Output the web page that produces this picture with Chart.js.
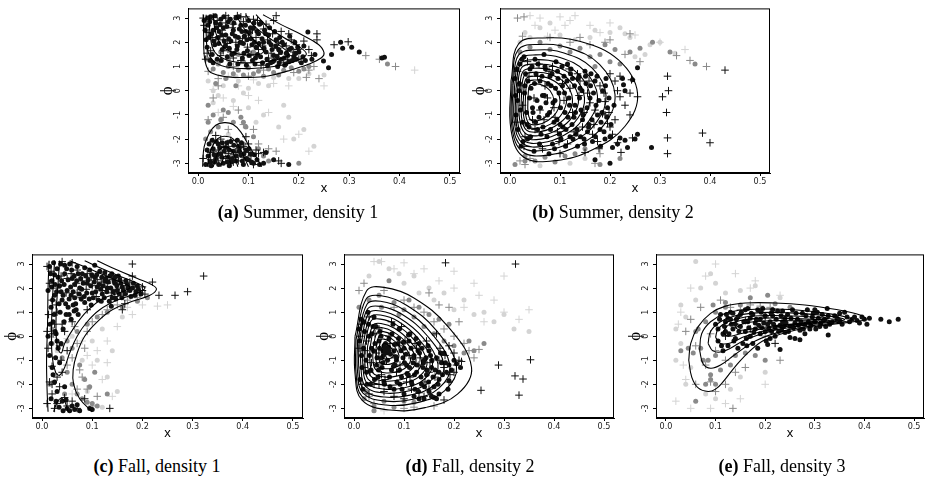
<!DOCTYPE html>
<html>
<head>
<meta charset="utf-8">
<script src="https://cdn.jsdelivr.net/npm/chart.js@4.4.0/dist/chart.umd.min.js"></script>
<style>
  html, body { margin: 0; padding: 0; background: #fff; width: 926px; height: 479px; overflow: hidden; position: relative; }
  canvas { position: absolute; }
  .cap { position: absolute; font-family: 'Liberation Serif', 'Times New Roman', serif; font-size: 18px; color: #000; white-space: nowrap; transform: translateX(-50%); line-height: 22px; }
</style>
</head>
<body>
<canvas id="pa"></canvas>
<canvas id="pb"></canvas>
<canvas id="pc"></canvas>
<canvas id="pd"></canvas>
<canvas id="pe"></canvas>
<div class="cap" style="left:298px;top:201px"><b>(a)</b> Summer, density 1</div>
<div class="cap" style="left:613px;top:201px"><b>(b)</b> Summer, density 2</div>
<div class="cap" style="left:157px;top:455px"><b>(c)</b> Fall, density 1</div>
<div class="cap" style="left:470px;top:455px"><b>(d)</b> Fall, density 2</div>
<div class="cap" style="left:782px;top:455px"><b>(e)</b> Fall, density 3</div>
<script>
// axis ticks shared by all five panels
const xTicks = [0, 0.1, 0.2, 0.3, 0.4, 0.5];
const yTicks = [-3, -2, -1, 0, 1, 2, 3];

// ---- (a) Summer, density 1 ----
const aDotsDark = [[.012,2.9],[.02,2.7],[.025,3.05],[.03,2.5],[.035,2.8],[.04,2.2],[.045,2.95],[.05,2.6],[.055,2.3],[.06,2.85],[.065,2.05],[.07,2.5],[.075,3.0],[.08,2.2],[.085,2.7],[.09,1.95],[.095,2.45],[.1,2.9],[.105,2.15],[.11,2.6],[.115,1.8],[.12,2.35],[.125,2.8],[.13,2.0],[.135,1.6],[.14,2.3],[.145,1.9],[.15,1.45],[.155,2.1],[.16,1.7],[.165,1.3],[.17,1.9],[.175,1.55],[.18,1.2],[.185,1.75],[.19,1.4],[.2,1.6],[.205,1.15],[.21,1.85],[.018,1.8],[.022,2.2],[.028,1.5],[.033,1.9],[.038,1.3],[.042,2.45],[.048,1.7],[.052,2.05],[.058,1.4],[.062,1.75],[.068,2.35],[.072,1.55],[.078,1.85],[.082,2.55],[.088,1.35],[.092,2.25],[.098,1.65],[.102,2.4],[.108,1.25],[.112,2.0],[.118,1.5],[.122,2.75],[.128,1.15],[.132,2.5],[.138,1.05],[.142,2.6],[.148,1.2],[.152,2.45],[.158,1.0],[.162,2.2],[.172,1.05],[.182,2.25],[.192,2.0],[.195,1.3],[.218,2.42],[.249,1.23],[.259,0.95],[.265,1.5],[.283,2.0],[.287,1.75],[.305,1.8],[.32,1.6],[.365,1.35],[.37,1.38],
  [.014,2.5],[.016,2.1],[.019,3.0],[.023,2.85],[.027,2.35],[.031,2.05],[.034,3.1],[.037,2.6],[.041,1.95],[.044,2.75],[.047,2.3],[.051,3.05],[.054,1.85],[.057,2.65],[.061,2.15],[.064,2.95],[.067,1.5],[.071,2.8],[.074,2.25],[.077,1.7],[.081,3.05],[.084,2.0],[.087,2.45],[.091,1.55],[.094,2.7],[.097,2.1],[.101,1.45],[.104,2.6],[.107,1.9],[.111,2.8],[.114,1.35],[.117,2.45],[.121,1.95],[.124,1.4],[.127,2.15],[.131,1.75],[.134,2.35],[.137,1.3],[.141,2.0],[.144,1.15],[.147,1.7],[.151,1.25],[.154,1.85],[.157,1.4],[.161,1.15],[.164,1.6],[.167,2.0],[.171,1.35],[.174,1.1],[.178,1.45],[.181,1.7],[.187,1.25],[.194,1.55],[.198,1.8],[.208,1.4],[.213,1.25],[.226,1.3],[.232,1.5],[.024,1.25],[.03,1.15],[.046,1.25],[.063,1.1],[.079,1.1],[.096,1.05],[.113,1.1],
  [.015,-3.05],[.02,-2.7],[.025,-2.95],[.03,-2.4],[.035,-2.8],[.04,-2.2],[.045,-2.6],[.05,-3.0],[.055,-2.35],[.06,-2.75],[.065,-2.1],[.07,-2.5],[.075,-2.9],[.08,-2.3],[.085,-2.65],[.09,-3.05],[.095,-2.45],[.1,-2.85],[.105,-2.6],[.11,-3.0],[.028,-2.05],[.038,-2.65],[.048,-2.15],[.058,-2.95],[.068,-2.8],[.078,-2.05],[.088,-2.9],[.13,-3.0],[.15,-2.85],[.135,-2.55],[.18,-3.05],
  [.018,-2.45],[.022,-2.2],[.026,-3.1],[.032,-2.65],[.036,-2.1],[.041,-3.05],[.043,-2.35],[.047,-2.75],[.052,-2.5],[.057,-2.15],[.062,-2.45],[.066,-2.95],[.071,-2.25],[.076,-2.7],[.081,-2.5],[.086,-2.15],[.091,-2.6],[.096,-2.8],[.101,-2.4],[.106,-2.95],[.112,-2.65],[.117,-2.85],[.122,-3.05],[.033,-2.95],[.062,-3.1]];
const aDotsMid = [[.02,1.3],[.03,0.9],[.04,1.1],[.05,0.75],[.06,1.0],[.07,0.7],[.08,0.85],[.09,0.65],[.1,0.95],[.11,0.7],[.12,0.8],[.13,0.6],[.14,0.9],[.15,0.75],[.16,0.65],[.17,0.85],[.185,0.95],[.2,0.8],[.21,0.9],[.22,1.0],[.035,0.3],[.055,0.5],[.075,0.2],[.02,-0.6],[.03,-1.0],[.045,-1.2],[.06,-0.9],[.04,-1.5],[.025,-1.7],[.07,-1.3],[.085,-1.1],[.095,-1.5],[.05,-0.8],[.11,-1.9],[.12,-2.4],[.09,-2.2],[.13,-2.7],[.14,-2.9],[.015,-2.0],[.2,-3.0],[.376,1.1],[.11,1.6],[.06,1.3],[.025,2.3],[.045,1.6],[.09,1.2],[.08,1.5],[.02,-1.3],[.09,-1.3]];
const aDotsLight = [[.03,0.0],[.05,0.2],[.08,0.4],[.1,0.1],[.12,0.3],[.15,0.55],[.18,0.5],[.22,0.7],[.25,0.65],[.03,-0.5],[.07,-0.4],[.1,-0.7],[.13,-1.0],[.16,-1.5],[.19,-2.0],[.04,-0.2],[.09,-0.1],[.115,-1.3],[.06,-1.8],[.02,0.4],[.14,0.2],[.2,0.5],[.17,-0.6],[.075,0.6],[.23,-2.3],[.18,-1.1],[.21,-1.6]];
const aPlusDark = [[.01,3.0],[.02,2.4],[.03,3.05],[.04,2.65],[.05,2.1],[.06,3.0],[.07,2.75],[.08,1.9],[.09,2.85],[.1,2.3],[.11,2.95],[.12,1.7],[.13,2.55],[.14,1.35],[.15,2.9],[.16,2.0],[.17,1.15],[.18,2.35],[.19,1.6],[.2,1.3],[.21,2.05],[.22,1.7],[.236,2.35],[.236,2.1],[.27,1.9],[.298,2.02],[.015,1.3],[.025,1.65],[.035,2.1],[.045,1.45],[.055,2.8],[.065,1.6],[.075,2.0],[.085,1.25],[.095,3.05],[.105,1.5],[.115,2.2],[.125,1.05],[.135,2.75],[.145,1.55],[.155,3.1],[.165,2.45],[.175,1.85],[.185,2.1],[.195,1.9],[.025,2.95],[.055,3.1],[.085,3.05],
  [.012,2.7],[.018,1.55],[.028,2.2],[.038,2.9],[.048,2.5],[.058,1.95],[.068,2.6],[.078,3.1],[.088,2.15],[.098,1.8],[.108,2.5],[.118,2.9],[.128,1.85],[.138,2.1],[.148,2.35],[.158,1.75],[.168,1.95],[.178,1.3],[.188,1.45],[.198,1.7],[.225,1.45],[.16,1.5],[.07,1.35],[.05,1.65],
  [.01,-2.8],[.02,-3.0],[.03,-2.5],[.04,-2.9],[.05,-2.3],[.06,-2.6],[.07,-2.95],[.08,-2.4],[.09,-2.75],[.1,-2.2],[.11,-3.05],[.12,-2.6],[.045,-2.0],[.035,-1.85],[.065,-2.05],[.075,-2.55],[.025,-2.55],[.055,-2.8],[.085,-2.35],[.16,-2.9],[.165,-3.0],[.13,-2.55],[.095,-1.9],[.105,-2.7],[.025,-2.85],[.03,-2.1],[.04,-2.45],[.06,-2.3],[.07,-2.65],[.08,-2.9],[.09,-2.3],[.1,-2.55],[.115,-2.45]];
const aPlusMid = [[.02,0.8],[.04,0.5],[.07,1.0],[.1,0.6],[.13,0.85],[.16,1.05],[.19,0.75],[.215,0.55],[.24,0.5],[.333,1.45],[.36,1.3],[.392,1.0],[.03,-0.3],[.05,-1.1],[.08,-0.8],[.11,-1.6],[.12,-2.2],[.06,-1.6],[.155,-2.5],[.02,-1.2],[.22,0.85],[.09,-1.4],[.14,-2.4],[.04,0.2],[.23,1.0]];
const aPlusLight = [[.43,0.85],[.05,-0.3],[.08,0.2],[.12,-0.4],[.15,0.3],[.18,0.2],[.06,0.6],[.1,-0.2],[.2,-1.8],[.04,-0.9],[.14,-0.9],[.17,-2.0],[.25,0.2],[.03,0.05],[.11,0.45],[.22,-2.5],[.07,-0.65]];
const aContours = [
  [[.011,3.14],[.011,2.3],[.012,1.5],[.016,1.05],[.025,.75],[.059,.57],[.099,.55],[.139,.61],[.179,.82],[.219,1.09],[.245,1.36],[.25,1.57],[.239,1.91],[.205,2.32],[.165,2.73],[.129,3.14]],
  [[.016,3.14],[.016,2.4],[.02,1.6],[.035,1.15],[.075,.93],[.13,.95],[.17,1.07],[.2,1.28],[.215,1.52],[.2,1.82],[.17,2.2],[.14,2.6],[.115,3.14]],
  [[.022,3.14],[.024,2.3],[.033,1.6],[.06,1.25],[.1,1.15],[.15,1.25],[.18,1.5],[.165,1.82],[.14,2.2],[.11,2.7],[.095,3.14]],
  [[.03,3.14],[.035,2.4],[.05,1.8],[.08,1.52],[.11,1.47],[.13,1.62],[.115,2.0],[.09,2.6],[.075,3.14]],
  [[.009,-3.14],[.012,-2.32],[.022,-1.77],[.035,-1.43],[.052,-1.32],[.069,-1.39],[.085,-1.71],[.102,-2.32],[.119,-2.86],[.126,-3.14]],
  [[.019,-3.14],[.025,-2.46],[.039,-1.98],[.052,-1.88],[.069,-1.98],[.085,-2.46],[.1,-3.14]],
  [[.03,-3.14],[.042,-2.46],[.055,-2.32],[.068,-2.5],[.079,-3.14]],
  [[.045,-3.14],[.052,-2.73],[.06,-2.75],[.066,-3.14]]
];

// ---- (b) Summer, density 2 ----
const bDotsDark = [[.01,0.5],[.015,-0.4],[.02,1.1],[.025,-1.3],[.03,0.2],[.035,-2.0],[.04,0.9],[.045,-0.7],[.05,1.3],[.055,-1.6],[.06,0.4],[.065,-0.2],[.07,1.0],[.075,-1.0],[.08,0.6],[.085,-2.2],[.09,-0.4],[.095,0.8],[.1,-1.4],[.105,0.2],[.11,-0.9],[.115,1.1],[.12,-1.9],[.125,0.5],[.13,-0.6],[.135,-2.3],[.14,0.1],[.145,-1.2],[.15,0.8],[.155,-1.7],[.16,-0.3],[.165,-2.1],[.17,0.4],[.175,-1.0],[.18,-1.6],[.185,0.0],[.19,-2.0],[.195,-0.7],[.2,-1.9],[.205,-2.35],[.215,-2.2],[.22,-1.95],[.23,-2.05],[.235,-2.35],[.245,0.45],[.25,-2.0],[.255,-1.8],[.283,-2.35],[.255,0.95],[.225,0.5],[.227,0.25],[.23,0.0],[.17,-2.85],[.012,-1.0],[.018,0.0],[.022,-2.3],[.028,1.4],[.033,-0.9],[.038,-1.5],[.042,0.1],[.048,-2.5],[.052,0.7],[.058,-1.1],[.062,-1.8],[.068,1.5],[.072,-0.5],[.078,-2.6],[.082,0.2],[.088,-1.3],[.092,1.2],[.098,-0.1],[.102,-2.0],[.108,0.6],[.112,-1.6],[.118,-0.3],[.122,0.9],[.128,-1.1],[.132,-1.8],[.138,0.6],[.142,-0.8],[.148,-2.0],[.152,0.3],[.158,-1.4],[.162,0.7],[.172,-0.6],[.182,-1.3],[.192,0.5],[.2,-3.0],
  [.011,-0.2],[.014,0.9],[.016,-1.6],[.019,0.3],[.021,-0.8],[.024,1.3],[.026,-2.1],[.029,-0.1],[.031,0.7],[.034,-1.4],[.036,0.4],[.039,-0.3],[.041,-1.9],[.044,1.0],[.046,-0.9],[.049,0.3],[.051,-1.3],[.054,-0.4],[.056,1.1],[.059,-2.2],[.061,-0.7],[.064,0.6],[.066,-1.5],[.069,-0.2],[.071,0.9],[.074,-1.9],[.076,0.3],[.079,-0.9],[.081,-1.6],[.084,0.7],[.086,-0.5],[.089,-2.4],[.091,0.1],[.094,-1.2],[.096,0.5],[.099,-1.8],[.101,-0.7],[.104,1.0],[.106,-1.5],[.109,-0.1],[.111,-2.3],[.114,0.4],[.116,-1.1],[.119,-0.6],[.121,0.7],[.124,-1.4],[.126,-2.0],[.129,0.2],[.131,-0.9],[.134,-1.6],[.136,0.5],[.139,-0.3],[.141,-1.9],[.144,0.0],[.146,-1.0],[.149,-2.2],[.151,0.6],[.154,-0.7],[.157,-1.5],[.161,0.2],[.164,-1.2],[.167,-0.1],[.171,-1.9],[.174,0.6],[.178,-0.4],[.181,-2.3],[.184,-0.9],[.188,-1.7],[.191,0.2],[.194,-1.1],[.198,-0.3],[.202,-1.4],[.208,-0.6]];
const bDotsMid = [[.02,1.6],[.04,1.8],[.06,2.0],[.08,1.7],[.1,1.85],[.12,1.6],[.14,1.75],[.16,1.4],[.18,1.5],[.2,1.2],[.22,1.1],[.03,-2.7],[.05,-2.9],[.07,-2.75],[.09,-2.95],[.11,-2.7],[.13,-2.6],[.15,-2.4],[.01,-3.05],[.19,1.9],[.21,1.7],[.24,1.6],[.26,1.75],[.285,2.0],[.37,1.1],[.32,1.6],[.22,-2.8],[.18,-3.05],[.17,1.0],[.03,-2.9]];
const bDotsLight = [[.03,2.4],[.06,2.6],[.1,2.3],[.13,2.1],[.16,2.2],[.2,2.4],[.24,2.2],[.28,1.9],[.3,2.0],[.12,-3.0],[.06,-3.1],[.08,2.8],[.04,2.2],[.17,2.5],[.22,2.6],[.25,1.4],[.15,-2.8],[.27,1.5],[.33,1.55],[.02,2.0],[.23,2.35]];
const bPlusDark = [[.315,0.6],[.317,0.0],[.305,-0.25],[.313,-0.9],[.315,-1.95],[.315,-2.6],[.385,-1.75],[.4,-2.15],[.43,0.85],[.255,-0.25],[.243,0.45],[.22,-0.25],[.215,0.0],[.21,0.4],[.21,-1.2],[.19,-1.0],[.185,-0.95],[.2,-1.5],[.222,-2.55],[.215,-2.15],[.245,-1.95],[.19,-0.45],[.18,0.2],[.17,-0.8],[.165,-1.8],[.155,-0.1],[.145,-1.5],[.135,0.7],[.125,-0.9],[.115,-2.2],[.105,0.3],[.095,-1.7],[.085,1.0],[.075,-0.3],[.065,-2.4],[.055,0.6],[.045,-1.2],[.035,1.2],[.025,-0.6],[.015,0.8],[.03,-1.9],[.06,-0.8],[.09,-1.1],[.12,0.1],[.15,-2.55],[.175,-2.1],[.1,-2.6],[.07,0.2],[.05,-1.6],[.14,0.4],[.16,-0.5],[.2,0.7],[.22,0.6],[.195,-1.35],
  [.012,-1.3],[.02,0.2],[.028,-2.3],[.038,0.6],[.048,-0.3],[.058,1.1],[.068,-1.2],[.078,0.8],[.088,-0.7],[.098,-2.1],[.108,-0.4],[.118,0.9],[.128,-1.7],[.138,-0.2],[.148,-0.9],[.158,0.4],[.168,-1.4],[.178,-2.4],[.188,-0.1],[.198,-0.9],[.205,-1.8],[.23,-0.6],[.24,-0.1],[.24,-1.0]];
const bPlusMid = [[.333,1.45],[.36,1.25],[.393,1.0],[.24,2.35],[.02,-2.9],[.04,-2.8],[.025,2.25],[.08,2.2],[.12,2.0],[.16,1.9],[.2,2.1],[.23,1.5],[.26,1.2],[.03,-3.05],[.015,3.0],[.028,3.05],[.14,2.2],[.19,2.0],[.18,-2.6],[.17,-3.0]];
const bPlusLight = [[.04,3.1],[.06,3.0],[.1,3.05],[.12,2.9],[.13,3.1],[.09,2.5],[.05,2.7],[.16,2.7],[.2,2.8],[.25,2.3],[.3,2.0],[.35,1.7],[.075,2.25],[.11,2.7],[.18,2.4]];
const bContours = [
  [[.002,.41],[.017,1.93],[.065,2.18],[.141,2.03],[.217,1.27],[.255,-.10],[.230,-1.47],[.166,-2.43],[.091,-2.89],[.027,-2.74],[.002,-1.62],[.002,.41]],
  [[.004,.31],[.016,1.68],[.056,1.91],[.117,1.77],[.179,1.09],[.210,-.15],[.189,-1.38],[.138,-2.25],[.076,-2.66],[.025,-2.52],[.004,-1.52],[.004,.31]],
  [[.006,.23],[.017,1.47],[.053,1.68],[.108,1.56],[.164,.94],[.192,-.18],[.173,-1.30],[.127,-2.09],[.071,-2.46],[.025,-2.34],[.006,-1.43],[.006,.23]],
  [[.009,.16],[.019,1.29],[.051,1.48],[.100,1.37],[.150,.80],[.175,-.22],[.158,-1.24],[.117,-1.96],[.067,-2.30],[.026,-2.19],[.009,-1.36],[.009,.16]],
  [[.012,.08],[.021,1.11],[.049,1.28],[.093,1.18],[.138,.66],[.160,-.26],[.145,-1.19],[.108,-1.84],[.064,-2.15],[.027,-2.05],[.012,-1.29],[.012,.08]],
  [[.015,.02],[.023,.95],[.049,1.10],[.089,1.01],[.129,.54],[.149,-.30],[.136,-1.13],[.102,-1.72],[.062,-2.00],[.028,-1.91],[.015,-1.23],[.015,.02]],
  [[.019,-.04],[.026,.79],[.049,.93],[.084,.85],[.119,.43],[.137,-.32],[.125,-1.07],[.096,-1.60],[.060,-1.85],[.031,-1.77],[.019,-1.16],[.019,-.04]],
  [[.023,-.10],[.029,.64],[.049,.76],[.079,.69],[.110,.32],[.125,-.35],[.115,-1.01],[.089,-1.48],[.059,-1.70],[.033,-1.63],[.023,-1.09],[.023,-.10]],
  [[.027,-.15],[.032,.49],[.049,.60],[.074,.54],[.100,.21],[.113,-.37],[.104,-.95],[.083,-1.36],[.057,-1.55],[.036,-1.49],[.027,-1.01],[.027,-.15]],
  [[.031,-.20],[.035,.35],[.048,.44],[.069,.39],[.090,.11],[.100,-.39],[.093,-.89],[.076,-1.23],[.055,-1.40],[.038,-1.35],[.031,-.94],[.031,-.20]],
  [[.036,-.26],[.039,.20],[.049,.28],[.065,.23],[.080,.01],[.088,-.41],[.083,-.82],[.070,-1.11],[.054,-1.25],[.041,-1.20],[.036,-.87],[.036,-.26]]
];

// ---- (c) Fall, density 1 ----
const cDotsDark = [[.015,2.9],[.02,2.3],[.025,1.7],[.03,2.8],[.035,2.1],[.04,1.5],[.045,2.6],[.05,1.9],[.055,3.0],[.06,2.4],[.065,1.6],[.07,2.9],[.075,2.0],[.08,2.6],[.085,1.4],[.09,2.2],[.095,2.75],[.1,1.8],[.105,2.45],[.11,2.05],[.115,2.7],[.12,1.75],[.125,2.3],[.13,2.0],[.135,2.5],[.14,1.6],[.145,2.2],[.15,1.9],[.155,2.35],[.16,2.05],[.165,1.75],[.17,2.15],[.175,1.9],[.18,2.0],[.185,1.7],[.19,2.1],[.018,1.2],[.022,0.6],[.028,0.1],[.032,-0.5],[.036,1.0],[.042,0.3],[.048,0.9],[.052,1.2],[.058,0.7],[.062,1.3],[.068,1.1],[.072,0.9],[.015,-0.8],[.02,-1.3],[.025,-1.9],[.03,-2.3],[.04,-2.7],[.05,-3.0],[.055,-3.1],[.06,-2.9],[.065,-3.05],[.07,-2.85],[.075,-3.1],[.095,-3.0],[.1,-3.05],[.045,-2.1],[.035,-1.1],[.018,-2.6],[.025,2.55],[.045,2.95],[.065,2.15],[.085,2.85],[.105,2.95],[.125,2.65],[.145,2.45],[.038,1.85],[.058,1.7],[.078,1.55],[.098,1.3],[.118,1.45],[.138,1.25],[.012,0.0],[.012,1.9],
  [.017,2.6],[.019,2.05],[.021,1.5],[.023,3.05],[.026,2.15],[.029,1.85],[.032,2.45],[.034,1.35],[.037,3.0],[.039,2.3],[.042,1.7],[.044,2.15],[.047,1.35],[.049,2.8],[.052,2.35],[.054,1.55],[.057,2.05],[.059,2.75],[.062,1.85],[.064,2.5],[.067,1.35],[.069,2.3],[.072,2.6],[.074,1.75],[.077,2.4],[.079,1.95],[.082,2.2],[.084,1.65],[.087,2.5],[.089,1.8],[.092,2.35],[.094,1.55],[.097,2.1],[.099,2.55],[.102,1.6],[.104,2.25],[.107,1.85],[.109,2.55],[.112,1.5],[.114,2.15],[.117,1.95],[.119,2.45],[.122,2.1],[.124,1.6],[.127,2.4],[.129,1.85],[.132,2.25],[.134,1.45],[.137,2.0],[.139,2.6],[.142,1.85],[.144,2.3],[.147,1.55],[.149,2.1],[.152,2.5],[.154,1.75],[.157,2.2],[.159,1.6],[.162,1.9],[.167,2.3],[.172,2.0],[.177,1.65],[.182,2.2],[.187,1.85],[.192,1.95],[.197,1.75],[.024,0.9],[.026,0.2],[.03,-0.2],[.027,-0.9],[.022,-1.6],[.028,-2.7],[.034,-2.95],[.042,-3.1],[.048,-2.65],[.038,-0.3],[.044,0.6],[.054,0.9],[.064,1.05],[.016,0.5],[.018,-0.3]];
const cDotsMid = [[.02,-0.3],[.04,-0.9],[.05,-1.5],[.06,-2.0],[.07,-2.4],[.08,-2.6],[.09,-2.75],[.1,-2.8],[.11,-2.9],[.05,-0.2],[.07,0.2],[.09,0.5],[.11,0.8],[.13,1.0],[.16,1.2],[.19,1.45],[.21,1.6],[.075,-1.2],[.085,-1.8],[.045,-2.4],[.13,-2.4],[.095,-2.1],[.02,0.3],[.015,-2.0],[.06,-0.5],[.105,-1.5]];
const cDotsLight = [[.1,-0.2],[.12,0.3],[.14,-0.6],[.08,-1.0],[.15,-2.3],[.12,-2.95],[.06,0.0],[.03,-0.6],[.16,0.8],[.11,-1.0],[.09,-2.3],[.13,-1.7]];
const cPlusDark = [[.01,2.9],[.015,2.2],[.02,1.5],[.013,0.9],[.01,0.2],[.012,-0.5],[.015,-1.9],[.01,-2.8],[.02,-2.4],[.025,-3.0],[.04,3.1],[.06,3.05],[.07,2.75],[.08,2.3],[.09,2.6],[.1,2.1],[.11,2.35],[.12,1.9],[.13,2.2],[.14,2.35],[.15,2.15],[.16,2.0],[.17,1.85],[.175,2.25],[.165,1.35],[.18,3.0],[.18,2.5],[.22,2.25],[.233,1.7],[.265,1.7],[.29,1.85],[.322,2.5],[.2,1.9],[.2,2.05],[.03,1.0],[.045,0.2],[.05,-0.6],[.04,-1.5],[.038,-1.0],[.06,-2.7],[.07,-3.0],[.035,-2.1],[.045,-2.55],[.085,-2.6],[.135,-3.0],[.03,2.0],[.05,2.4],[.07,1.8],[.06,0.6],[.022,0.1],[.09,1.1],[.16,1.1],[.145,1.65],[.02,-1.25],
  [.018,2.7],[.028,1.3],[.038,2.5],[.048,1.8],[.058,2.6],[.068,2.2],[.078,1.6],[.088,1.95],[.098,2.45],[.108,1.65],[.118,2.25],[.128,2.45],[.138,1.8],[.148,1.95],[.158,2.3],[.168,2.1],[.185,2.05],[.195,1.8],[.205,1.75],[.025,0.5],[.035,-0.4],[.03,-1.7],[.02,-2.0],[.03,-2.8],[.05,-2.9],[.04,0.5]];
const cPlusMid = [[.06,-0.9],[.07,-0.3],[.09,0.2],[.1,0.6],[.12,0.9],[.08,-1.7],[.09,-2.2],[.1,-2.9],[.11,-2.5],[.05,-1.2],[.065,0.4],[.085,-0.5],[.13,1.1],[.15,1.3],[.17,1.5],[.19,1.6],[.07,-2.2],[.075,-1.4]];
const cPlusLight = [[.17,1.2],[.2,1.3],[.23,1.25],[.25,1.3],[.11,-0.6],[.13,-0.2],[.1,-1.2],[.12,-1.8],[.14,-2.5],[.08,-0.2],[.06,-2.4],[.15,0.4],[.18,0.9],[.13,-1.1],[.09,-0.8],[.055,-2.9],[.02,-0.05],[.05,-0.1]];
const cContours = [
  [[.014,3.14],[.012,2.0],[.011,.5],[.009,-1.0],[.01,-2.2],[.012,-3.14]],
  [[.11,3.14],[.15,2.75],[.19,2.4],[.218,2.15],[.228,1.95],[.215,1.7],[.18,1.45],[.14,1.1],[.11,.6],[.085,0],[.07,-.7],[.062,-1.4],[.063,-2.0],[.075,-2.6],[.1,-3.14]],
  [[.085,3.14],[.12,2.8],[.16,2.45],[.19,2.2],[.205,2.0],[.19,1.8],[.15,1.5],[.115,1.1],[.09,.6],[.07,0],[.055,-.7],[.045,-1.3],[.035,-1.62],[.027,-1.5],[.02,-.8],[.019,.5],[.022,2.0],[.025,3.14]],
  [[.055,3.14],[.1,2.75],[.145,2.35],[.175,2.05],[.16,1.85],[.12,1.55],[.09,1.05],[.065,.4],[.045,-.3],[.038,-.7],[.03,-.4],[.028,.8],[.032,2.2],[.035,3.14]],
  [[.023,-3.14],[.03,-2.75],[.038,-2.58],[.045,-2.7],[.05,-3.0],[.052,-3.14]]
];

// ---- (d) Fall, density 2 ----
const dDotsDark = [[.2,-1.0],[.205,-1.15],[.213,-1.3],[.19,-1.2],[.17,-1.5],[.155,-2.5],[.16,-2.55],[.165,-2.6],[.14,-2.6],[.13,-2.6],[.12,-2.5],[.1,-2.4],[.08,-2.2],[.06,-1.9],[.15,-2.3],[.17,-2.4],[.19,-1.85],[.01,0.3],[.015,-0.8],[.02,0.6],[.025,-1.5],[.03,0.0],[.035,-0.5],[.04,0.8],[.045,-1.2],[.05,-0.2],[.055,-0.9],[.06,-0.4],[.065,-0.7],[.07,-0.1],[.075,-1.4],[.08,-0.6],[.085,-1.0],[.09,0.3],[.095,-1.7],[.1,-0.5],[.105,-1.2],[.11,-0.2],[.115,-1.9],[.12,-0.8],[.125,-1.5],[.13,-0.3],[.135,-2.0],[.14,-1.0],[.145,-1.6],[.15,-0.6],[.155,-1.3],[.16,-2.1],[.165,-0.9],[.17,-1.8],[.175,-1.1],[.18,-0.7],[.185,-1.5],[.012,-1.8],[.018,-2.2],[.028,1.0],[.033,-2.0],[.038,0.4],[.042,-0.3],[.048,-1.7],[.052,0.2],[.058,-1.1],[.062,-0.55],[.068,-0.65],[.072,-2.1],[.078,0.5],[.082,-1.2],[.088,-0.3],[.092,-2.0],[.098,-0.9],[.108,-1.6],[.112,0.1],[.118,-1.1],[.122,-2.2],[.128,-0.6],[.138,-1.3],[.148,-0.4],[.158,-1.7],[.064,-0.5],[.066,-0.6],[.06,-0.62],
  [.011,-0.2],[.014,0.7],[.016,-1.3],[.019,-0.5],[.021,0.2],[.024,-1.0],[.026,-2.0],[.029,0.5],[.031,-0.8],[.034,-1.4],[.036,0.1],[.039,-0.6],[.041,-1.8],[.044,0.4],[.046,-0.9],[.049,-1.4],[.051,-0.5],[.054,0.0],[.056,-1.3],[.059,-0.8],[.061,-2.0],[.063,-0.3],[.067,-1.0],[.069,-0.45],[.071,-1.7],[.073,-0.75],[.076,0.1],[.079,-1.25],[.081,-0.35],[.084,-0.85],[.086,-1.9],[.089,-0.1],[.091,-1.4],[.094,-0.6],[.096,-2.2],[.099,-0.25],[.101,-1.1],[.104,-0.75],[.106,-1.55],[.109,0.05],[.111,-1.3],[.114,-0.5],[.116,-2.0],[.119,-0.9],[.121,-1.6],[.124,-0.1],[.126,-1.2],[.129,-2.3],[.131,-0.7],[.134,-1.7],[.136,-0.5],[.139,-1.1],[.141,-2.1],[.144,-0.9],[.146,-1.4],[.149,-1.9],[.153,-0.8],[.156,-1.0],[.162,-1.4],[.168,-2.0],[.173,-0.7],[.177,-1.6],[.183,-1.1],[.188,-2.2],[.195,-1.4],[.065,-0.55],[.058,-0.6],[.07,-0.62]];
const dDotsMid = [[.01,1.2],[.03,1.5],[.05,1.7],[.08,1.4],[.1,1.1],[.12,0.8],[.14,0.4],[.16,0.1],[.18,-0.2],[.2,-0.4],[.22,-0.7],[.24,-0.6],[.26,-0.3],[.02,-2.6],[.04,-2.9],[.06,-2.7],[.08,-2.95],[.1,-2.7],[.12,-2.75],[.04,-3.1],[.07,2.3],[.11,1.5],[.15,0.9],[.19,0.5],[.055,1.2],[.09,0.9],[.13,1.2],[.17,0.7],[.025,-2.3],[.23,-0.2]];
const dDotsLight = [[.03,2.5],[.07,2.8],[.1,2.2],[.13,1.8],[.16,1.5],[.2,1.1],[.24,0.9],[.28,0.6],[.32,0.3],[.05,3.1],[.09,2.6],[.15,2.0],[.22,1.5],[.26,1.0],[.18,1.8],[.3,0.9],[.04,-3.1],[.12,2.5],[.35,0.2]];
const dPlusDark = [[.183,3.05],[.323,3.0],[.289,-1.2],[.322,-1.65],[.338,-1.78],[.353,-0.98],[.33,-2.45],[.254,-2.25],[.21,-1.0],[.2,-1.5],[.19,-1.9],[.18,-2.65],[.15,-2.2],[.13,-2.35],[.1,-2.6],[.08,-2.5],[.06,-2.3],[.04,-2.0],[.02,-1.3],[.01,-0.5],[.015,0.5],[.03,0.8],[.05,0.3],[.07,0.0],[.09,-0.4],[.11,-0.8],[.13,-1.2],[.15,-1.5],[.17,-1.0],[.19,-0.4],[.2,-0.7],[.205,-1.2],[.215,-1.05],[.025,-0.2],[.045,-0.7],[.065,-1.0],[.085,-1.5],[.105,-1.9],[.125,-0.5],[.145,-0.2],[.165,0.1],[.055,-1.6],[.075,0.6],[.035,-1.1],[.095,0.4],[.115,-2.2],[.14,-2.5],[.06,-0.6],[.07,-0.5],[.18,-1.3],
  [.012,0.0],[.022,-0.6],[.032,-1.5],[.042,0.1],[.052,-1.1],[.062,-1.8],[.072,-0.3],[.082,-0.9],[.092,-1.2],[.102,-0.2],[.112,-1.7],[.122,-0.3],[.132,-0.9],[.142,-1.9],[.152,-1.1],[.162,-1.7],[.172,-0.5],[.182,-0.8],[.192,-1.6],[.016,-2.0],[.03,-2.4],[.05,-2.0]];
const dPlusMid = [[.01,1.9],[.02,2.2],[.06,1.9],[.1,1.5],[.12,1.2],[.14,1.0],[.16,0.6],[.18,0.3],[.2,0.0],[.22,-0.3],[.23,-0.6],[.25,-0.55],[.21,0.6],[.19,1.2],[.17,1.3],[.15,1.8],[.08,1.2],[.04,-2.8],[.1,-3.0],[.03,-2.5],[.16,-2.9],[.12,-2.95],[.24,-0.9]];
const dPlusLight = [[.04,3.1],[.055,3.1],[.1,3.05],[.14,2.8],[.12,2.6],[.2,2.0],[.25,1.7],[.28,1.5],[.22,1.2],[.3,1.0],[.26,0.6],[.17,2.3],[.08,2.8],[.33,0.7],[.35,1.1],[.24,2.2],[.3,2.5],[.2,2.7],[.06,-3.1]];
const dContours = [
  [[.002,-.01],[.025,1.88],[.060,2.03],[.119,1.60],[.188,.40],[.235,-1.29],[.207,-2.41],[.142,-2.97],[.072,-3.07],[.016,-2.66],[.002,-1.54],[.002,-.01]],
  [[.004,-.14],[.024,1.54],[.054,1.68],[.105,1.29],[.165,.23],[.205,-1.27],[.181,-2.27],[.125,-2.77],[.064,-2.86],[.016,-2.50],[.004,-1.50],[.004,-.14]],
  [[.007,-.21],[.026,1.33],[.053,1.45],[.100,1.10],[.155,.12],[.192,-1.25],[.170,-2.16],[.118,-2.62],[.063,-2.70],[.018,-2.37],[.007,-1.46],[.007,-.21]],
  [[.010,-.27],[.027,1.13],[.053,1.24],[.095,.92],[.146,.03],[.180,-1.21],[.160,-2.04],[.112,-2.45],[.061,-2.53],[.020,-2.23],[.010,-1.40],[.010,-.27]],
  [[.014,-.31],[.029,.95],[.053,1.05],[.091,.76],[.137,-.04],[.168,-1.17],[.150,-1.92],[.106,-2.29],[.060,-2.36],[.023,-2.09],[.014,-1.34],[.014,-.31]],
  [[.018,-.35],[.032,.79],[.053,.88],[.088,.62],[.129,-.11],[.157,-1.12],[.140,-1.80],[.101,-2.14],[.060,-2.20],[.026,-1.95],[.018,-1.28],[.018,-.35]],
  [[.022,-.39],[.034,.63],[.053,.71],[.084,.48],[.121,-.17],[.146,-1.07],[.131,-1.67],[.096,-1.98],[.059,-2.03],[.029,-1.81],[.022,-1.21],[.022,-.39]],
  [[.027,-.43],[.038,.46],[.054,.53],[.081,.33],[.113,-.24],[.135,-1.02],[.122,-1.55],[.092,-1.81],[.059,-1.86],[.034,-1.67],[.027,-1.14],[.027,-.43]],
  [[.032,-.46],[.041,.30],[.055,.36],[.078,.19],[.106,-.30],[.124,-.97],[.113,-1.42],[.087,-1.65],[.060,-1.69],[.038,-1.53],[.032,-1.08],[.032,-.46]],
  [[.038,-.49],[.046,.15],[.057,.20],[.076,.05],[.098,-.35],[.113,-.92],[.104,-1.30],[.083,-1.49],[.061,-1.52],[.043,-1.38],[.038,-1.00],[.038,-.49]],
  [[.044,-.51],[.050,.01],[.058,.05],[.073,-.07],[.090,-.40],[.101,-.86],[.094,-1.17],[.078,-1.32],[.061,-1.35],[.047,-1.24],[.044,-.93],[.044,-.51]],
  [[.050,-.54],[.054,-.15],[.060,-.12],[.070,-.21],[.082,-.46],[.090,-.80],[.085,-1.03],[.074,-1.15],[.062,-1.17],[.052,-1.09],[.050,-.86],[.050,-.54]],
  [[.056,-.56],[.058,-.32],[.062,-.30],[.068,-.36],[.075,-.51],[.080,-.72],[.077,-.87],[.070,-.94],[.063,-.95],[.057,-.90],[.056,-.76],[.056,-.56]]
];

// ---- (e) Fall, density 3 ----
const eDotsDark = [[.1,0.5],[.105,-0.2],[.11,0.9],[.115,0.1],[.12,0.6],[.125,-0.4],[.13,1.0],[.135,0.3],[.14,-0.1],[.145,0.8],[.15,0.4],[.155,-0.3],[.16,1.1],[.165,0.6],[.17,0.0],[.175,0.9],[.18,0.3],[.185,-0.5],[.19,0.7],[.195,1.15],[.2,0.2],[.205,0.5],[.21,-0.1],[.215,0.85],[.22,0.35],[.225,1.05],[.23,-0.55],[.235,0.6],[.24,0.15],[.245,0.9],[.25,0.4],[.255,1.1],[.26,-0.1],[.265,0.7],[.27,0.25],[.275,0.95],[.28,0.5],[.285,1.1],[.29,0.3],[.295,0.8],[.3,0.6],[.305,1.0],[.31,0.4],[.315,0.9],[.32,0.7],[.325,1.15],[.33,0.5],[.34,0.85],[.35,0.65],[.36,1.0],[.37,0.6],[.38,0.8],[.39,0.55],[.4,0.7],[.405,0.5],[.41,0.75],[.433,0.7],[.45,0.6],[.468,0.7],[.327,0.05],[.28,0.1],[.25,-0.05],[.12,0.2],[.13,0.7],[.14,0.5],[.15,0.9],[.16,0.2],[.17,0.75],[.18,0.55],[.19,0.1],[.2,0.85],[.21,0.6],[.22,0.0],[.23,0.45],[.24,0.75],[.115,-0.6],[.163,-0.4],[.193,0.35],[.213,0.2],[.233,0.25],[.26,0.55],[.27,-0.15],
  [.105,0.3],[.108,0.7],[.112,-0.4],[.118,0.4],[.122,0.9],[.127,0.1],[.132,0.5],[.137,-0.2],[.142,0.7],[.147,0.2],[.152,1.0],[.157,0.6],[.162,-0.1],[.167,0.35],[.172,0.95],[.177,0.15],[.182,0.7],[.187,0.45],[.192,1.0],[.197,0.55],[.202,-0.2],[.207,0.3],[.212,0.95],[.217,0.5],[.222,0.7],[.227,0.2],[.232,0.85],[.237,0.4],[.242,0.55],[.247,0.2],[.252,0.75],[.257,0.35],[.262,0.95],[.267,0.45],[.272,0.6],[.277,0.3],[.282,0.85],[.287,0.6],[.292,0.45],[.297,0.95],[.302,0.3],[.307,0.75],[.312,0.55],[.317,0.65],[.322,0.4],[.327,0.85],[.335,0.6],[.345,0.75],[.355,0.5],[.365,0.8],[.375,0.7],[.385,0.65],[.395,0.8],[.145,-0.5],[.175,-0.3],[.205,-0.35],[.125,0.75],[.135,0.95],[.165,1.15],[.185,1.1],[.215,1.1],[.235,1.05],[.3,1.1],[.35,0.95]];
const eDotsMid = [[.06,0.2],[.07,-0.5],[.08,0.6],[.085,-1.0],[.09,-1.6],[.095,1.3],[.1,-0.8],[.11,-1.4],[.12,1.2],[.13,-1.2],[.14,-0.8],[.15,1.3],[.16,-0.7],[.18,-0.8],[.2,-1.0],[.22,1.35],[.25,1.2],[.09,-1.8],[.1,-2.0],[.075,-1.0],[.065,0.3],[.17,1.6],[.205,1.7],[.12,1.4],[.08,-2.0],[.06,-2.7],[.055,-0.7],[.045,-0.5],[.1,1.0],[.03,-0.6]];
const eDotsLight = [[.02,0.3],[.03,-0.3],[.04,0.8],[.05,-1.3],[.06,1.5],[.07,2.0],[.08,-2.4],[.1,2.2],[.12,1.8],[.15,1.9],[.18,2.1],[.04,-2.0],[.1,-2.6],[.06,3.1],[.02,-1.0],[.13,-2.2],[.15,-1.7],[.2,-1.5],[.03,1.3],[.09,2.6],[.23,1.6]];
const ePlusDark = [[.14,0.5],[.17,0.3],[.2,0.8],[.22,-0.3],[.12,0.0],[.16,0.65]];
const ePlusMid = [[.05,0.7],[.06,-0.4],[.07,1.2],[.08,-1.2],[.09,0.1],[.1,-0.6],[.11,1.5],[.12,-1.0],[.13,1.2],[.14,-1.5],[.15,1.1],[.16,-1.3],[.17,1.3],[.19,1.25],[.21,1.2],[.23,-1.0],[.09,-1.9],[.12,-2.0],[.135,-3.0],[.1,-2.3],[.04,0.2],[.2,0.0],[.06,-2.0]];
const ePlusLight = [[.02,-2.7],[.04,-1.8],[.03,1.0],[.05,2.0],[.08,2.5],[.14,2.6],[.18,2.3],[.23,1.7],[.035,-1.2],[.1,3.0],[.15,-2.6],[.05,-3.0],[.2,-2.0],[.025,0.5],[.12,-2.8],[.17,2.0],[.09,-3.0]];
const eContours = [
  [[.046,-1.0],[.05,-.3],[.065,.4],[.09,.95],[.12,1.25],[.16,1.38],[.22,1.38],[.28,1.3],[.34,1.12],[.385,.92],[.402,.72],[.385,.62],[.33,.48],[.26,.25],[.2,-.15],[.17,-.6],[.14,-1.25],[.115,-1.9],[.1,-2.2],[.085,-2.3],[.065,-2.15],[.052,-1.7],[.046,-1.0]],
  [[.068,-.6],[.072,.1],[.09,.6],[.12,.95],[.16,1.1],[.22,1.13],[.28,1.06],[.33,.93],[.365,.79],[.375,.68],[.35,.58],[.29,.42],[.23,.18],[.18,-.2],[.14,-.75],[.11,-1.2],[.09,-1.33],[.075,-1.15],[.068,-.6]],
  [[.085,-.3],[.09,.2],[.11,.6],[.14,.85],[.19,.98],[.25,.97],[.31,.88],[.35,.77],[.36,.68],[.335,.59],[.27,.43],[.21,.2],[.16,-.15],[.13,-.5],[.11,-.66],[.094,-.6],[.085,-.3]],
  [[.1,-.05],[.105,.3],[.125,.6],[.16,.8],[.21,.86],[.27,.83],[.32,.75],[.345,.68],[.33,.61],[.27,.48],[.21,.28],[.16,0],[.13,-.28],[.11,-.3],[.1,-.05]],
  [[.115,.15],[.125,.45],[.15,.65],[.2,.75],[.26,.73],[.31,.69],[.33,.65],[.31,.59],[.26,.49],[.2,.33],[.15,.1],[.125,0],[.115,.15]],
  [[.14,.35],[.16,.55],[.21,.64],[.27,.64],[.305,.62],[.285,.56],[.23,.46],[.18,.32],[.15,.25],[.14,.35]]
];

const DARK = '#111111';
const MID = '#8a8a8a';
const LIGHT = '#d4d4d4';
const NARROW = "'Liberation Sans Narrow', 'DejaVu Sans Condensed', 'Liberation Sans', sans-serif";
const padL = 40, padT = 5, padR = 4, padB = 30;

// panel frames: box = [left, top, right, bottom] of the plot area in page pixels
const panels = [
  { id: 'pa', box: [188, 5, 461, 173], dd: aDotsDark, dm: aDotsMid, dl: aDotsLight, pd: aPlusDark, pm: aPlusMid, pl: aPlusLight, cont: aContours },
  { id: 'pb', box: [500, 5, 771, 173], dd: bDotsDark, dm: bDotsMid, dl: bDotsLight, pd: bPlusDark, pm: bPlusMid, pl: bPlusLight, cont: bContours },
  { id: 'pc', box: [32, 251, 304, 418], dd: cDotsDark, dm: cDotsMid, dl: cDotsLight, pd: cPlusDark, pm: cPlusMid, pl: cPlusLight, cont: cContours },
  { id: 'pd', box: [344, 251, 615, 418], dd: dDotsDark, dm: dDotsMid, dl: dDotsLight, pd: dPlusDark, pm: dPlusMid, pl: dPlusLight, cont: dContours },
  { id: 'pe', box: [656, 251, 925, 418], dd: eDotsDark, dm: eDotsMid, dl: eDotsLight, pd: ePlusDark, pm: ePlusMid, pl: ePlusLight, cont: eContours }
];

function xy(list) {
  return list.map(p => ({ x: p[0], y: p[1] }));
}

function points(list, style, color, order) {
  const cross = style === 'cross';
  return {
    data: xy(list),
    order: order,
    pointStyle: style,
    pointRadius: cross ? 3.8 : 2.5,
    pointBackgroundColor: color,
    pointBorderColor: color,
    pointBorderWidth: cross ? 1 : 0,
    showLine: false
  };
}

// frame around the plot and rotated y tick labels (like R's default axis)
const framePlugin = {
  id: 'frame',
  afterDraw(chart) {
    const { ctx, chartArea: a } = chart;
    const y = chart.scales.y;
    ctx.save();
    ctx.strokeStyle = '#000';
    ctx.lineWidth = 1;
    ctx.strokeRect(a.left + 0.5, a.top + 0.5, a.right - a.left - 1, a.bottom - a.top - 1);
    ctx.fillStyle = '#222';
    ctx.font = '9px ' + NARROW;
    ctx.textAlign = 'center';
    ctx.textBaseline = 'middle';
    y.ticks.forEach(t => {
      ctx.save();
      ctx.translate(a.left - 10, y.getPixelForValue(t.value));
      ctx.rotate(-Math.PI / 2);
      ctx.fillText(String(t.value), 0, 0);
      ctx.restore();
    });
    ctx.restore();
  }
};

function buildPanel(p) {
  const [L, T, R, B] = p.box;
  const canvas = document.getElementById(p.id);
  canvas.width = R - L + padL + padR;
  canvas.height = B - T + padT + padB;
  canvas.style.left = (L - padL) + 'px';
  canvas.style.top = (T - padT) + 'px';

  const datasets = [
    points(p.pl, 'cross', LIGHT, 9),
    points(p.dl, 'circle', LIGHT, 8),
    points(p.pm, 'cross', MID, 7),
    points(p.dm, 'circle', MID, 6),
    points(p.dd, 'circle', DARK, 5),
    points(p.pd, 'cross', DARK, 4)
  ];
  p.cont.forEach(c => {
    datasets.push({
      data: xy(c),
      order: 1,
      showLine: true,
      pointRadius: 0,
      borderColor: '#000',
      borderWidth: 1.1,
      tension: 0.4,
      fill: false
    });
  });

  new Chart(canvas, {
    type: 'scatter',
    data: { datasets },
    options: {
      responsive: false,
      animation: false,
      devicePixelRatio: 1,
      events: [],
      layout: { padding: { left: 0, top: padT, right: padR, bottom: 0 } },
      plugins: { legend: { display: false }, tooltip: { enabled: false } },
      scales: {
        x: {
          type: 'linear',
          min: -0.02,
          max: 0.52,
          afterBuildTicks: s => { s.ticks = xTicks.map(v => ({ value: v })); },
          afterFit: s => { s.height = padB; },
          grid: { drawOnChartArea: false, drawTicks: true, tickLength: 3, color: '#000' },
          border: { display: true, color: '#000' },
          ticks: { font: { family: NARROW, size: 9 }, color: '#222', padding: 0, maxRotation: 0, autoSkip: false, callback: v => v.toFixed(1) },
          title: { display: true, text: 'x', color: '#000', font: { family: "'Liberation Sans', sans-serif", size: 13 }, padding: { top: 0, bottom: 7 } }
        },
        y: {
          type: 'linear',
          min: -3.4,
          max: 3.4,
          afterBuildTicks: s => { s.ticks = yTicks.map(v => ({ value: v })); },
          afterFit: s => { s.width = padL; },
          grid: { drawOnChartArea: false, drawTicks: true, tickLength: 3, color: '#000' },
          border: { display: true, color: '#000' },
          ticks: { color: 'rgba(0,0,0,0)', font: { size: 9 } },
          title: { display: true, text: 'ϕ', color: '#000', font: { family: "'Liberation Serif', 'DejaVu Serif', serif", size: 17 }, padding: { top: 9, bottom: 0 } }
        }
      }
    },
    plugins: [framePlugin]
  });
}

panels.forEach(buildPanel);
</script>
</body>
</html>
